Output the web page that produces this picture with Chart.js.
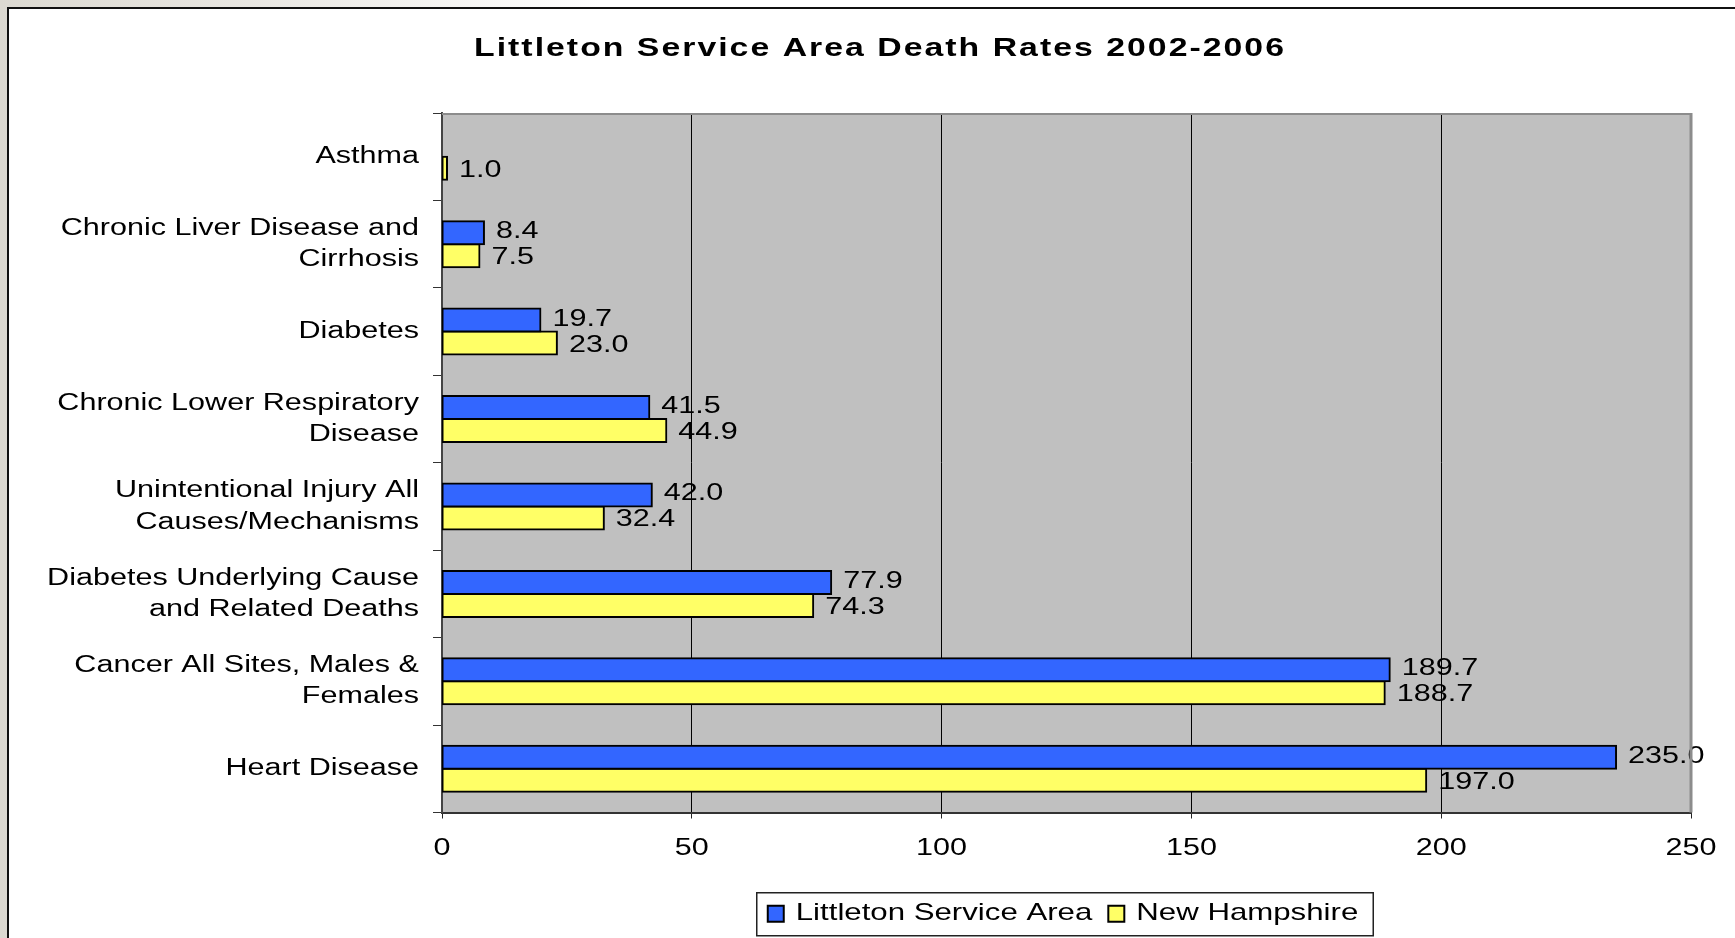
<!DOCTYPE html>
<html>
<head>
<meta charset="utf-8">
<script src="https://cdn.jsdelivr.net/npm/chart.js@4.4.0/dist/chart.umd.min.js"></script>
<style>
  html, body { margin: 0; padding: 0; width: 1735px; height: 938px; overflow: hidden;
    background: linear-gradient(90deg, #dcd9d1 0px, #e9e7e2 250px, #ffffff 600px); }
  #card { position: absolute; left: 7px; top: 7px; width: 1760px; height: 940px; background: #fff;
    border-left: 2px solid #111; border-top: 2px solid #111; }
  #card canvas { position: absolute; left: 0; top: 0; }
</style>
</head>
<body>
<div id="card"><canvas id="deaths" width="1744" height="930"></canvas></div>
<script>
// ── Datos ─────────────────────────────────────────────────────────────
const categories = [
  'Asthma',
  ['Chronic Liver Disease and', 'Cirrhosis'],
  'Diabetes',
  ['Chronic Lower Respiratory', 'Disease'],
  ['Unintentional Injury All', 'Causes/Mechanisms'],
  ['Diabetes Underlying Cause', 'and Related Deaths'],
  ['Cancer All Sites, Males &', 'Females'],
  'Heart Disease'
];
const littletonRates = [null, 8.4, 19.7, 41.5, 42.0, 77.9, 189.7, 235.0];
const nhRates        = [1.0, 7.5, 23.0, 44.9, 32.4, 74.3, 188.7, 197.0];
const xTicks = [0, 50, 100, 150, 200, 250];

const FONT = "'Liberation Sans', Arial, sans-serif";
const STRETCH = 1.3;          // texto ensanchado como en la hoja original
const titleCenterX = 871;
const legendCenterX = 1054;
const labelNudge = [-1, 2];   // desplazamiento vertical de etiquetas por serie

// ── Texto ensanchado ──────────────────────────────────────────────────
function stretched(ctx, k, spacing, fn) {
  const fill = ctx.fillText, measure = ctx.measureText, prevSp = ctx.letterSpacing;
  ctx.letterSpacing = spacing;
  ctx.fillText = function(t, x, y, mw) {
    this.save();
    this.translate(x, y);
    this.scale(k, 1);
    if (mw === undefined) fill.call(this, t, 0, 0);
    else fill.call(this, t, 0, 0, mw / k);
    this.restore();
  };
  ctx.measureText = function(t) {
    const m = measure.call(this, t);
    return { width: m.width * k,
      actualBoundingBoxAscent: m.actualBoundingBoxAscent,
      actualBoundingBoxDescent: m.actualBoundingBoxDescent };
  };
  try { return fn(); }
  finally { delete ctx.fillText; delete ctx.measureText; ctx.letterSpacing = prevSp; }
}

function wrapBox(box, method, k, spacing) {
  const orig = box[method].bind(box);
  box[method] = function(...args) { return stretched(this.ctx, k, spacing, () => orig(...args)); };
}

function centerBox(box, cx) {
  const dx = cx - (box.left + box.right) / 2;
  box.left += dx; box.right += dx;
}

const excelLook = {
  id: 'excelLook',
  afterInit(chart) {
    wrapBox(chart.legend, 'fit', STRETCH, '0px');
    wrapBox(chart.legend, 'draw', STRETCH, '0px');
    wrapBox(chart.titleBlock, 'draw', STRETCH, '1.55px');
  },
  afterLayout(chart) {
    centerBox(chart.titleBlock, titleCenterX);
    centerBox(chart.legend, legendCenterX);
    ['x', 'y'].forEach(id => {
      const s = chart.scales[id];
      if (!s._wide) { wrapBox(s, 'drawLabels', STRETCH, '0px'); s._wide = true; }
    });
  },
  beforeDraw(chart) {
    const {ctx, chartArea: a} = chart;
    ctx.save();
    ctx.fillStyle = '#c0c0c0';
    ctx.fillRect(a.left, a.top, a.right - a.left, a.bottom - a.top);
    ctx.restore();
  },
  afterDraw(chart) {
    const {ctx, chartArea: a} = chart;
    ctx.save();
    // borde superior y derecho del área de trazado
    ctx.strokeStyle = '#8c8c8c';
    ctx.lineWidth = 2;
    ctx.beginPath();
    ctx.moveTo(a.left, a.top + 1); ctx.lineTo(a.right, a.top + 1);
    ctx.stroke();
    ctx.lineWidth = 3;
    ctx.beginPath();
    ctx.moveTo(a.right, a.top); ctx.lineTo(a.right, a.bottom);
    ctx.stroke();
    // marco de la leyenda
    const lg = chart.legend, hb = lg.legendHitBoxes;
    if (hb.length) {
      const last = hb[hb.length - 1];
      const l = hb[0].left - 11, r = last.left + last.width + 15;
      const t = lg.top + 7, b = lg.bottom;
      ctx.strokeStyle = '#222';
      ctx.lineWidth = 1.5;
      ctx.strokeRect(l, t, r - l, b - t);
    }
    ctx.restore();
  },
  afterDatasetsDraw(chart) {
    const ctx = chart.ctx;
    ctx.save();
    ctx.font = `23.5px ${FONT}`;
    ctx.fillStyle = '#000';
    ctx.textAlign = 'left';
    ctx.textBaseline = 'middle';
    stretched(ctx, STRETCH, '0px', () => {
      chart.data.datasets.forEach((ds, i) => {
        chart.getDatasetMeta(i).data.forEach((bar, j) => {
          const v = ds.data[j];
          if (v == null) return;
          ctx.fillText(v.toFixed(1), bar.x + 12, bar.y + labelNudge[i]);
        });
      });
    });
    ctx.restore();
  }
};

new Chart(document.getElementById('deaths'), {
  type: 'bar',
  data: {
    labels: categories,
    datasets: [
      { label: 'Littleton Service Area', data: littletonRates,
        backgroundColor: '#3366ff', borderColor: '#000', borderWidth: 2,
        borderSkipped: false, inflateAmount: 1 },
      { label: 'New Hampshire', data: nhRates,
        backgroundColor: '#ffff66', borderColor: '#000', borderWidth: 2,
        borderSkipped: false, inflateAmount: 1 }
    ]
  },
  options: {
    indexAxis: 'y',
    responsive: false,
    animation: false,
    categoryPercentage: 0.526,
    barPercentage: 1.0,
    layout: { padding: { left: 0, right: 62, top: 0, bottom: 3.25 } },
    plugins: {
      tooltip: { enabled: false },
      title: {
        display: true,
        text: 'Littleton Service Area Death Rates 2002-2006',
        color: '#000',
        font: { family: FONT, size: 26, weight: 'bold', lineHeight: 1.2 },
        padding: { top: 24.4, bottom: 48.4 }
      },
      legend: {
        position: 'bottom',
        labels: {
          color: '#000',
          font: { family: FONT, size: 24 },
          boxWidth: 16, boxHeight: 16, padding: 16
        }
      }
    },
    scales: {
      x: {
        min: xTicks[0],
        max: xTicks[xTicks.length - 1],
        afterFit: s => { s.height = 73.25; },
        ticks: { stepSize: xTicks[1] - xTicks[0], color: '#000', padding: 16,
          font: { family: FONT, size: 23.5 } },
        grid: {
          color: c => (c.tick && (c.tick.value === xTicks[0] || c.tick.value === xTicks[xTicks.length - 1])) ? 'rgba(0,0,0,0)' : '#000',
          tickColor: '#222',
          tickLength: 6,
          lineWidth: 1
        },
        border: { color: '#333', width: 2 }
      },
      y: {
        afterFit: s => { s.width = 433; },
        ticks: { color: '#000', padding: 14,
          font: { family: FONT, size: 23.5, lineHeight: 1.33 } },
        grid: { drawOnChartArea: false, tickLength: 9, color: '#333', offset: true },
        border: { color: '#444', width: 2 }
      }
    }
  },
  plugins: [excelLook]
});
</script>
</body>
</html>
